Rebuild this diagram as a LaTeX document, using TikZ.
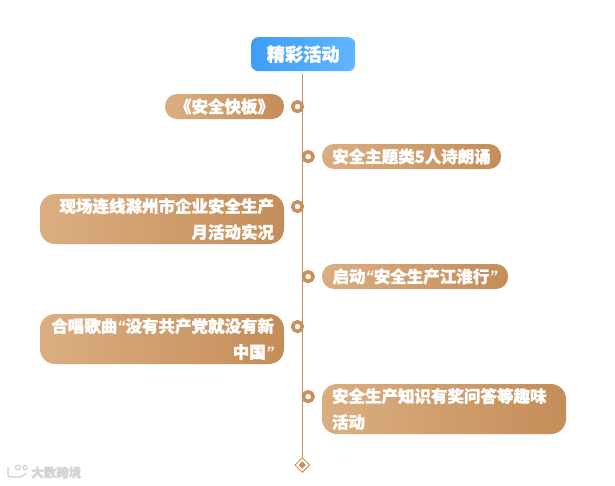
\documentclass[tikz,border=0pt]{standalone}
\usepackage{fontspec}
\setmainfont{Noto Sans CJK SC}[BoldFeatures={FakeBold=1.3}]
\newfontfamily\latinq{Liberation Sans}[ItalicFeatures={FakeBold=1.5}]
\usetikzlibrary{shapes.geometric}
\definecolor{tan1}{HTML}{DBAE81}
\definecolor{tan2}{HTML}{C48D59}
\definecolor{ringc}{HTML}{C9915E}
\definecolor{linec}{HTML}{BF9268}
\definecolor{blue1}{HTML}{3D9DF6}
\definecolor{blue2}{HTML}{62B5FF}
\newcommand{\oq}{{\latinq\itshape “}}
\newcommand{\cq}{{\latinq\itshape ”}}
\tikzset{
  x=1pt,y=-1pt,
  pill/.style={anchor=north west,rounded corners=#1,left color=tan1,right color=tan2,
    text=white,font=\fontsize{16.5}{26}\selectfont\bfseries,inner xsep=10pt,inner ysep=0pt,outer sep=0pt},
  ring/.style={circle,draw=ringc,line width=3.6pt,fill=white,minimum size=9.6pt,inner sep=0pt,outer sep=0pt},
  trunk/.style={draw=linec,line width=1.2pt},
}
\begin{document}
\begin{tikzpicture}
\useasboundingbox (0,0) rectangle (615,485);
\node[anchor=north west,rounded corners=7pt,left color=blue1,right color=blue2,text=white,
  font=\fontsize{18.2}{20}\selectfont\bfseries,minimum width=104pt,minimum height=34pt,inner sep=0pt] (title) at (251,37) {精彩活动};
\node[diamond,draw=ringc,line width=0.9pt,fill=white,minimum size=15pt,inner sep=0pt] (end) at (302.3,465) {};
\node[diamond,fill=ringc,minimum size=7.5pt,inner sep=0pt] (endc) at (end) {};
\coordinate (ts) at (302.7,74);
\draw[trunk] (ts) -- (ts |- end.north);
\node[pill=12pt,minimum width=119pt,minimum height=25pt] (a) at (165,94) {《安全快板》};
\node[ring] (ra) at (297.5,106.6) {};
\node[pill=12pt,minimum width=179pt,minimum height=25pt] (b) at (322,144) {安全主题类5人诗朗诵};
\node[ring] (rb) at (308.2,156.6) {};
\node[pill=15pt,minimum width=244pt,minimum height=50pt,text width=224pt,align=right] (c) at (40,194) {现场连线滁州市企业安全生产\\月活动实况};
\node[ring] (rc) at (297.5,206.6) {};
\node[pill=12pt,minimum width=186pt,minimum height=25pt] (d) at (322,264) {启动\oq 安全生产江淮行\cq};
\node[ring] (rd) at (308.2,276.6) {};
\node[pill=15pt,minimum width=244pt,minimum height=50pt,text width=224pt,align=right] (e) at (40,314) {合唱歌曲\oq 没有共产党就没有新\\中国\cq};
\node[ring] (re) at (297.5,326.6) {};
\node[pill=15pt,minimum width=244pt,minimum height=50pt,text width=224pt,align=left] (f) at (322,384) {安全生产知识有奖问答等趣味\\活动};
\node[ring] (rf) at (308.2,396.6) {};
% watermark
\node[anchor=west,text=black!17,font=\fontsize{12.5}{13}\selectfont\bfseries,inner sep=0pt] (wm) at (31,472.5) {大数跨境};
\draw[black!20,line width=1.2pt,rounded corners=2pt] (8,467) -- (8,477) -- (22,477) -- (26,473);
\draw[black!20,line width=1pt] (18,467.5) circle (2.5) (25,467.5) circle (2.2);
\end{tikzpicture}
\end{document}
